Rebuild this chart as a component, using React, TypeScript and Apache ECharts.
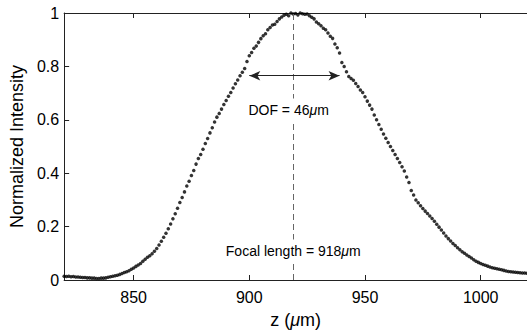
import React, { useEffect, useRef } from "react";
import * as echarts from "echarts";

// z positions start at 820 µm, one reading per µm
const zStart = 820;
const zStep = 1;
const intensity = [
  0.014, 0.013, 0.014, 0.012, 0.013, 0.011, 0.011, 0.010, 0.009, 0.009,
  0.008, 0.008, 0.007, 0.007, 0.006, 0.006, 0.007, 0.007, 0.008, 0.010,
  0.012, 0.014, 0.016, 0.018, 0.021, 0.024, 0.028, 0.031, 0.035, 0.040,
  0.045, 0.051, 0.056, 0.062, 0.070, 0.078, 0.085, 0.091, 0.098, 0.108,
  0.118, 0.131, 0.145, 0.160, 0.175, 0.192, 0.210, 0.229, 0.248, 0.269,
  0.290, 0.309, 0.330, 0.352, 0.370, 0.391, 0.410, 0.434, 0.455, 0.470,
  0.490, 0.511, 0.530, 0.551, 0.570, 0.592, 0.610, 0.624, 0.640, 0.657,
  0.672, 0.688, 0.702, 0.719, 0.735, 0.749, 0.765, 0.778, 0.792, 0.818,
  0.840, 0.852, 0.868, 0.876, 0.890, 0.904, 0.915, 0.922, 0.937, 0.946,
  0.955, 0.958, 0.968, 0.978, 0.985, 0.992, 0.995, 0.990, 1.000, 0.996,
  0.998, 0.993, 1.000, 0.997, 0.995, 0.996, 0.990, 0.984, 0.978, 0.966,
  0.960, 0.952, 0.943, 0.937, 0.925, 0.913, 0.905, 0.884, 0.870, 0.850,
  0.815, 0.800, 0.780, 0.762, 0.755, 0.748, 0.736, 0.725, 0.712, 0.702,
  0.686, 0.670, 0.655, 0.640, 0.618, 0.600, 0.582, 0.565, 0.547, 0.531,
  0.515, 0.500, 0.485, 0.470, 0.455, 0.440, 0.424, 0.408, 0.386, 0.365,
  0.335, 0.318, 0.300, 0.289, 0.278, 0.268, 0.258, 0.249, 0.240, 0.230,
  0.220, 0.209, 0.198, 0.187, 0.176, 0.165, 0.155, 0.146, 0.137, 0.129,
  0.121, 0.113, 0.106, 0.100, 0.094, 0.088, 0.082, 0.076, 0.070, 0.066,
  0.062, 0.058, 0.055, 0.052, 0.049, 0.046, 0.044, 0.042, 0.040, 0.038,
  0.036, 0.034, 0.032, 0.031, 0.030, 0.029, 0.028, 0.027, 0.026, 0.026,
  0.025,
];

const xTicks = [850, 900, 950, 1000];
const yTicks = [0, 0.2, 0.4, 0.6, 0.8, 1];
const xRange = [820, 1020];
const yRange = [0, 1];

const focalLineZ = 919;
const dofArrowZ = [900, 939];
const dofArrowLevel = 0.765;
const dofLabelAt = [917, 0.635];
const focalLabelAt = [919, 0.107];
const dofText = "DOF = 46{i|μ}m";
const focalText = "Focal length = 918{i|μ}m";

const FONT = "'Liberation Sans', Arial, Helvetica, sans-serif";
const AXIS_COLOR = "#222";

export default function App() {
  const ref = useRef<HTMLDivElement>(null);

  useEffect(() => {
    const chart = echarts.init(ref.current!, null, { renderer: "svg" });
    const points = intensity.map((v, i) => [zStart + i * zStep, v]);

    const tickStyle = {
      show: true,
      inside: true,
      length: 5,
      lineStyle: { color: AXIS_COLOR, width: 1 },
    };

    chart.setOption({
      animation: false,
      backgroundColor: "#fff",
      textStyle: { fontFamily: FONT },
      grid: { left: 64, top: 13, width: 470, height: 271, containLabel: false },
      xAxis: [
        {
          type: "value",
          min: xRange[0],
          max: xRange[1],
          position: "bottom",
          name: "z ({i|μ}m)",
          nameLocation: "middle",
          nameGap: 31,
          nameTextStyle: {
            fontFamily: FONT,
            fontSize: 18,
            color: "#000",
            rich: { i: { fontFamily: FONT, fontSize: 18, fontStyle: "italic", color: "#000" } },
          },
          axisLine: { show: true, lineStyle: { color: AXIS_COLOR, width: 1 } },
          axisTick: { ...tickStyle, customValues: xTicks },
          axisLabel: {
            customValues: xTicks,
            fontFamily: FONT,
            fontSize: 16,
            color: "#000",
            margin: 9,
            formatter: (v: number) => String(v),
          },
          splitLine: { show: false },
        },
        {
          type: "value",
          min: xRange[0],
          max: xRange[1],
          position: "top",
          axisLine: { show: true, lineStyle: { color: AXIS_COLOR, width: 1 } },
          axisTick: { ...tickStyle, customValues: xTicks },
          axisLabel: { show: false },
          splitLine: { show: false },
        },
      ],
      yAxis: {
        type: "value",
        min: yRange[0],
        max: yRange[1],
        interval: 0.2,
        name: "Normalized Intensity",
        nameLocation: "middle",
        nameGap: 37,
        nameTextStyle: { fontFamily: FONT, fontSize: 18, color: "#000" },
        axisLine: { show: true, lineStyle: { color: AXIS_COLOR, width: 1 } },
        axisTick: { ...tickStyle, customValues: yTicks },
        axisLabel: {
          customValues: yTicks,
          fontFamily: FONT,
          fontSize: 16,
          color: "#000",
          margin: 5,
          formatter: (v: number) => String(Number(v.toFixed(1))),
        },
        splitLine: { show: false },
      },
      series: [
        {
          type: "scatter",
          data: points,
          symbol: "circle",
          symbolSize: 3.5,
          itemStyle: { color: "#000" },
          silent: true,
          markLine: {
            silent: true,
            animation: false,
            label: { show: false },
            data: [
              [
                {
                  coord: [focalLineZ, yRange[0]],
                  symbol: "none",
                  lineStyle: { type: [6, 4], color: "#666", width: 1 },
                },
                { coord: [focalLineZ, yRange[1]], symbol: "none" },
              ],
              [
                {
                  coord: [dofArrowZ[0], dofArrowLevel],
                  symbol: "arrow",
                  symbolSize: [7, 11],
                  lineStyle: { type: "solid", color: "#222", width: 1 },
                },
                { coord: [dofArrowZ[1], dofArrowLevel], symbol: "arrow", symbolSize: [7, 11] },
              ],
            ],
          },
        },
      ],
    });

    const toPx = (p: number[]) => chart.convertToPixel({ seriesIndex: 0 }, p) as number[];
    const labelStyle = (text: string) => ({
      text,
      fontFamily: FONT,
      fontSize: 14,
      fill: "#000",
      align: "center",
      verticalAlign: "middle",
      backgroundColor: "#fff",
      padding: [5, 3],
      rich: { i: { fontFamily: FONT, fontSize: 14, fontStyle: "italic", fill: "#000" } },
    });
    const d = toPx(dofLabelAt);
    const f = toPx(focalLabelAt);
    chart.setOption({
      graphic: [
        { type: "text", x: d[0], y: d[1], z: 100, style: labelStyle(dofText) },
        { type: "text", x: f[0], y: f[1], z: 100, style: labelStyle(focalText) },
      ],
    });

    return () => chart.dispose();
  }, []);

  return (
    <div
      ref={ref}
      style={{ position: "fixed", left: 0, top: 0, width: 527, height: 334 }}
    />
  );
}
